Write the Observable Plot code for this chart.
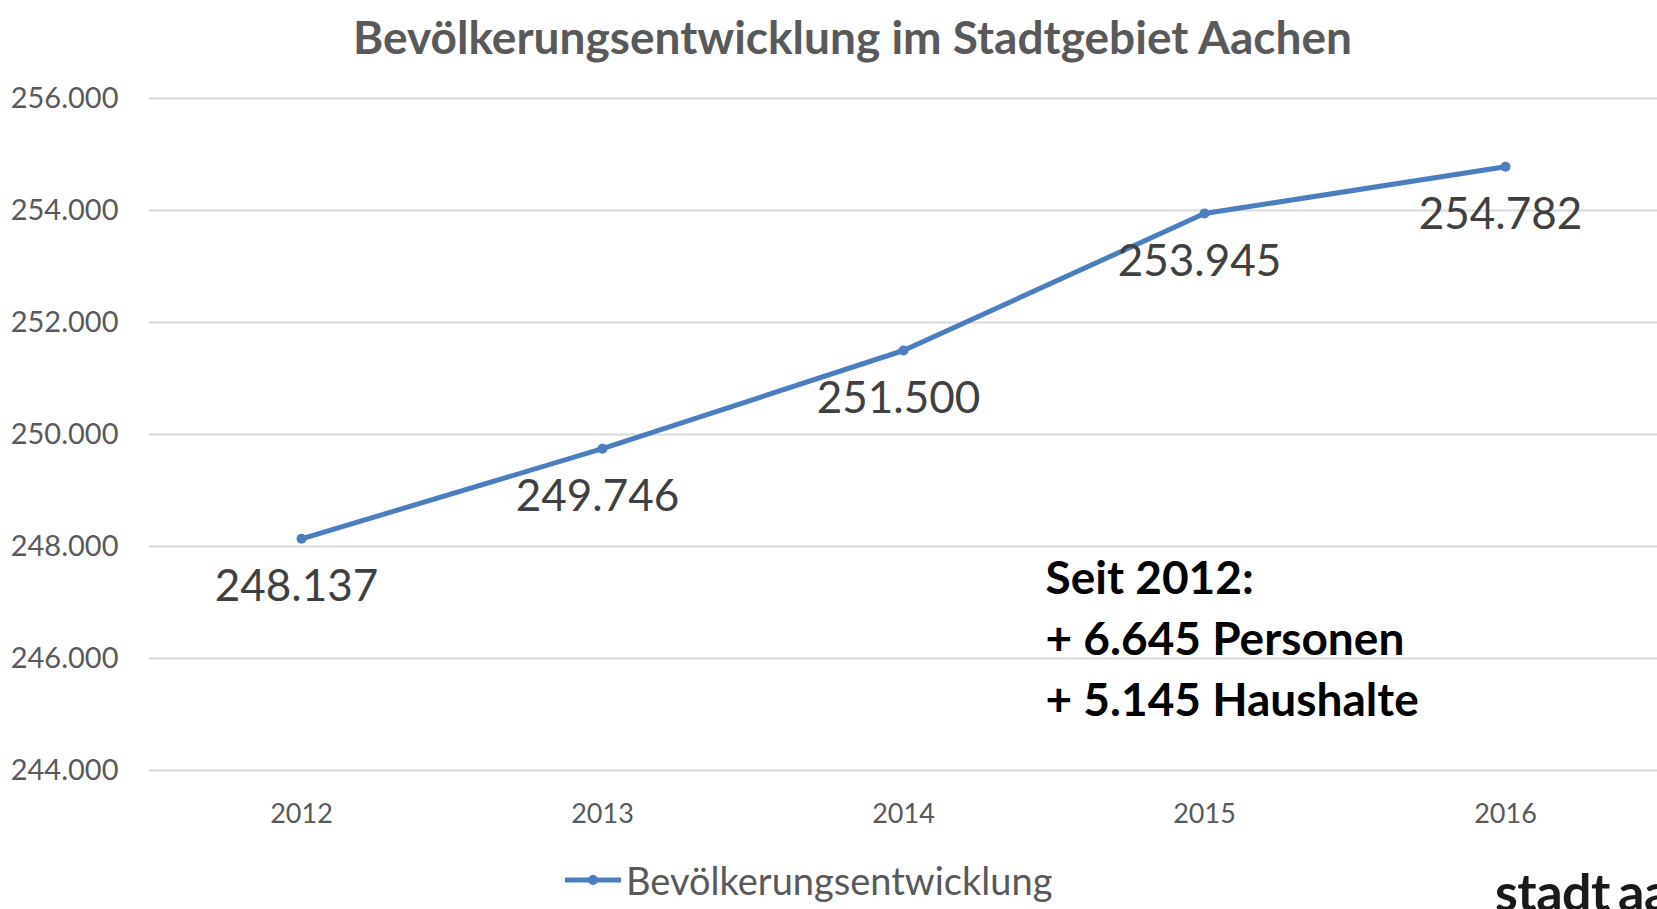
<!DOCTYPE html>
<html><head><meta charset="utf-8">
<script src="https://cdn.jsdelivr.net/npm/d3@7"></script>
<script src="https://cdn.jsdelivr.net/npm/@observablehq/plot@0.6"></script>
<style>
html,body{margin:0;padding:0;background:#fff;overflow:hidden;width:1657px;height:909px;position:relative;}
#title{box-sizing:border-box;width:1657px;height:74px;line-height:74px;padding-left:48px;text-align:center;font-family:Lato,"Open Sans",sans-serif;font-weight:bold;font-size:46px;color:#595959;white-space:nowrap;}
#chart svg{display:block;}
#legend{position:absolute;left:565px;top:855px;height:50px;display:flex;align-items:center;font-family:Lato,"Open Sans",sans-serif;font-size:38px;color:#595959;white-space:nowrap;}
#legend svg{display:block;margin-right:5px;}
#logo{position:absolute;left:1495px;top:865px;font-family:Lato,"Open Sans",sans-serif;font-weight:bold;font-size:52px;line-height:52px;color:#1a1a1a;white-space:nowrap;letter-spacing:-0.5px;word-spacing:-4px;}
</style></head>
<body>
<div id="title"></div>
<div id="chart"></div>
<div id="legend"></div>
<div id="logo"></div>
<script>
const titleText = "Bevölkerungsentwicklung im Stadtgebiet Aachen";
const seriesName = "Bevölkerungsentwicklung";
const years = ["2012", "2013", "2014", "2015", "2016"];
const population = [248137, 249746, 251500, 253945, 254782];
const yTicks = [244000, 246000, 248000, 250000, 252000, 254000, 256000];
const noteLines = ["Seit 2012:", "+ 6.645 Personen", "+ 5.145 Haushalte"];
const logoText = "stadt aachen";

const lineColor = "#4a7ebf";
const fmt = d3.formatLocale({decimal: ",", thousands: ".", grouping: [3], currency: ["", "€"]}).format(",d");
const data = years.map((year, i) => ({year, value: population[i]}));

document.getElementById("title").textContent = titleText;
document.getElementById("logo").textContent = logoText;

const chart = Plot.plot({
  width: 1657,
  height: 780,
  marginLeft: 149,
  marginRight: 0,
  marginTop: 24,
  marginBottom: 84,
  style: {fontFamily: "Lato, 'Open Sans', sans-serif", fontSize: "27px", color: "#595959", background: "white", overflow: "visible"},
  x: {type: "point", domain: years, padding: 0.5},
  y: {domain: [244000, 256000]},
  marks: [
    Plot.ruleY(yTicks, {stroke: "#d9d9d9", strokeWidth: 2}),
    Plot.axisX({tickSize: 0, tickPadding: 33, label: null, fontSize: 27, fill: "#595959"}),
    Plot.axisY({ticks: yTicks, tickFormat: fmt, tickSize: 0, tickPadding: 31, label: null, fontSize: 29, fill: "#595959"}),
    Plot.line(data, {x: "year", y: "value", stroke: lineColor, strokeWidth: 5}),
    Plot.dot(data, {x: "year", y: "value", r: 5, fill: lineColor, stroke: "none"}),
    Plot.text(data, {x: "year", y: "value", text: d => fmt(d.value), dy: 48, dx: -5, fontSize: 44, fill: "#404040"}),
    Plot.text([noteLines.join("\n")], {text: d => d, frameAnchor: "top-left", dx: 896, dy: 537, lineAnchor: "middle", textAnchor: "start", fontSize: 46, fontWeight: "bold", fill: "#000", lineHeight: 1.33})
  ]
});
document.getElementById("chart").appendChild(chart);

// legend
const legend = document.getElementById("legend");
const sw = d3.create("svg").attr("width", 56).attr("height", 12);
sw.append("line").attr("x1", 0).attr("x2", 56).attr("y1", 6).attr("y2", 6).attr("stroke", lineColor).attr("stroke-width", 5);
sw.append("circle").attr("cx", 28).attr("cy", 6).attr("r", 5).attr("fill", lineColor);
legend.appendChild(sw.node());
const lt = document.createElement("span");
lt.textContent = seriesName;
legend.appendChild(lt);
</script>
</body></html>
